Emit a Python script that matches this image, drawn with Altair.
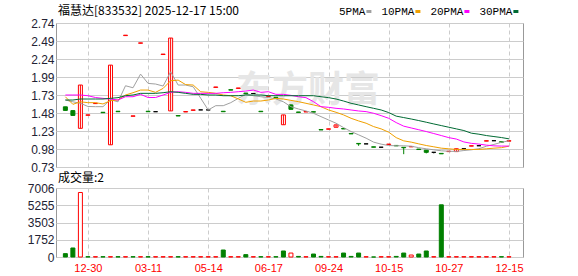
import json
import altair as alt
import pandas as pd

# ---------------- data ----------------
idx = list(range(60))
opens = [1.570, 1.517, 1.270, 1.452, 1.615, 1.494, 1.040, 1.508, 2.564, 1.438,
         2.457, 1.508, 1.502, 2.300, 1.513, 1.448, 1.498, 1.521, 1.527, 1.527,
         1.841, 1.508, 1.809, 1.827, 1.762, 1.756, 1.508, 1.715, 1.703, 1.320,
         1.596, 1.498, 1.498, 1.502, 1.253, 1.257, 1.285, 1.267, 1.198, 1.059,
         1.053, 1.012, 1.006, 1.044, 1.031, 1.005, 1.011, 0.980, 0.965, 0.935,
         0.920, 0.945, 0.945, 0.985, 1.021, 1.027, 1.091, 1.097, 1.082, 1.091]
closes = [1.520, 1.450, 1.874, 1.458, 1.620, 1.488, 2.152, 1.502, 2.570, 1.444,
          2.463, 1.502, 1.502, 2.306, 2.530, 1.442, 1.504, 1.527, 1.527, 1.527,
          1.847, 1.502, 1.803, 1.833, 1.756, 1.756, 1.502, 1.720, 1.697, 1.457,
          1.535, 1.492, 1.504, 1.496, 1.247, 1.263, 1.318, 1.261, 1.192, 1.053,
          1.053, 1.006, 1.006, 1.050, 1.025, 0.999, 1.017, 0.974, 0.935, 0.935,
          0.914, 0.950, 0.985, 0.985, 1.027, 1.027, 1.097, 1.097, 1.076, 1.097]
highs = [1.570, 1.517, 1.874, 1.458, 1.620, 1.494, 2.152, 1.508, 2.570, 1.444,
         2.463, 1.508, 1.502, 2.306, 2.530, 1.448, 1.504, 1.527, 1.527, 1.527,
         1.847, 1.508, 1.809, 1.833, 1.762, 1.756, 1.508, 1.720, 1.703, 1.457,
         1.605, 1.498, 1.504, 1.502, 1.253, 1.263, 1.318, 1.267, 1.198, 1.059,
         1.053, 1.012, 1.006, 1.050, 1.031, 1.005, 1.017, 0.980, 0.965, 0.935,
         0.920, 0.950, 0.985, 0.985, 1.027, 1.027, 1.097, 1.097, 1.082, 1.097]
lows = [1.520, 1.450, 1.270, 1.452, 1.615, 1.488, 1.040, 1.502, 2.564, 1.438,
        2.457, 1.502, 1.502, 2.300, 1.513, 1.442, 1.498, 1.521, 1.527, 1.527,
        1.841, 1.502, 1.803, 1.827, 1.756, 1.756, 1.502, 1.715, 1.697, 1.320,
        1.535, 1.492, 1.498, 1.496, 1.247, 1.257, 1.285, 1.261, 1.192, 1.026,
        1.053, 1.006, 1.006, 1.044, 1.025, 0.909, 1.011, 0.974, 0.920, 0.920,
        0.914, 0.945, 0.945, 0.985, 1.021, 1.027, 1.091, 1.097, 1.076, 1.091]
volumes = [340, 914, 6550, 30, 30, 30, 30, 30, 30, 30,
           30, 30, 30, 30, 30, 30, 30, 30, 30, 30,
           30, 710, 30, 30, 240, 30, 30, 30, 30, 610,
           400, 60, 30, 300, 60, 30, 30, 400, 60, 400,
           30, 0, 30, 30, 60, 400, 200, 300, 610, 30,
           5300, 30, 30, 30, 30, 30, 30, 30, 30, 30]
vol_dir = ["down", "down", "up", "down", "up", "down", "up", "down", "up", "down",
           "up", "down", "up", "up", "up", "down", "up", "up", "up", "up",
           "up", "down", "up", "up", "down", "up", "down", "up", "down", "down",
           "up", "down", "up", "down", "down", "up", "up", "down", "down", "down",
           "up", "down", "up", "up", "down", "down", "up", "down", "down", "up",
           "down", "up", "up", "up", "up", "up", "up", "up", "down", "up"]
ma5 = [1.665, 1.640, 1.620, 1.575, 1.572, 1.572, 1.670, 1.640, 1.864, 1.836,
       2.027, 1.897, 1.888, 1.860, 2.059, 1.874, 1.874, 1.850, 1.690, 1.526,
       1.586, 1.586, 1.628, 1.688, 1.744, 1.725, 1.711, 1.700, 1.680, 1.640,
       1.572, 1.540, 1.512, 1.480, 1.433, 1.387, 1.341, 1.280, 1.225, 1.179,
       1.132, 1.077, 1.049, 1.030, 1.026, 1.026, 1.020, 1.000, 0.984, 0.970,
       0.956, 0.950, 0.947, 0.960, 0.970, 0.985, 1.020, 1.045, 1.075, 1.095]
ma10 = [1.710, 1.605, 1.640, 1.628, 1.628, 1.610, 1.656, 1.665, 1.735, 1.767,
        1.804, 1.804, 1.772, 1.827, 1.934, 1.943, 1.880, 1.874, 1.780, 1.772,
        1.758, 1.735, 1.725, 1.680, 1.633, 1.651, 1.651, 1.665, 1.688, 1.679,
        1.660, 1.642, 1.619, 1.596, 1.572, 1.526, 1.494, 1.457, 1.410, 1.373,
        1.341, 1.294, 1.262, 1.216, 1.140, 1.095, 1.077, 1.053, 1.030, 1.012,
        0.993, 0.984, 0.975, 0.975, 0.975, 0.975, 0.984, 0.993, 1.000, 1.021]
ma20 = [1.735, 1.735, 1.735, 1.725, 1.700, 1.688, 1.679, 1.665, 1.711, 1.711,
        1.744, 1.700, 1.700, 1.735, 1.772, 1.781, 1.772, 1.758, 1.758, 1.758,
        1.758, 1.767, 1.772, 1.781, 1.790, 1.804, 1.772, 1.781, 1.744, 1.744,
        1.730, 1.711, 1.698, 1.642, 1.572, 1.563, 1.549, 1.540, 1.526, 1.512,
        1.503, 1.480, 1.447, 1.410, 1.350, 1.300, 1.275, 1.250, 1.225, 1.197,
        1.169, 1.140, 1.120, 1.080, 1.060, 1.050, 1.035, 1.025, 1.022, 1.022]
ma30 = [1.665, 1.665, 1.679, 1.679, 1.679, 1.679, 1.688, 1.698, 1.725, 1.735,
        1.758, 1.758, 1.758, 1.767, 1.781, 1.772, 1.758, 1.744, 1.744, 1.735,
        1.735, 1.725, 1.725, 1.725, 1.735, 1.735, 1.735, 1.725, 1.725, 1.725,
        1.725, 1.725, 1.725, 1.725, 1.711, 1.698, 1.679, 1.651, 1.619, 1.596,
        1.572, 1.549, 1.526, 1.490, 1.440, 1.420, 1.400, 1.378, 1.355, 1.331,
        1.308, 1.285, 1.262, 1.239, 1.202, 1.188, 1.169, 1.155, 1.141, 1.123]
tick_idx = [3, 11, 19, 27, 35, 43, 51, 59]
tick_labels = ["12-30", "03-11", "05-14", "06-17", "09-24", "10-15", "10-27", "12-15"]
price_labels = ["0.73", "0.98", "1.23", "1.48", "1.73", "1.99", "2.24", "2.49", "2.74"]
vol_labels = ["0", "1752", "3503", "5255", "7006"]
ma_names = ["5PMA", "10PMA", "20PMA", "30PMA"]
ma_colors = ["#a0a0a0", "#f0a000", "#ff00ff", "#006a33"]
title_text = "福慧达[833532] 2025-12-17 15:00"
vol_title = "成交量:2"
watermark = "东方财富"

# ---------------- tables ----------------
kind = ["up" if c > o else ("down" if c < o else "flat") for o, c in zip(opens, closes)]
cdf = pd.DataFrame({"i": idx, "o": opens, "c": closes, "h": highs, "l": lows, "kind": kind})
vdf = pd.DataFrame({"i": idx, "v": volumes, "dir": vol_dir})
mdf = pd.DataFrame({"i": idx, "5PMA": ma5, "10PMA": ma10, "20PMA": ma20, "30PMA": ma30})


def one(text):
    return pd.DataFrame({"t": [text]})


W, H1, H2 = 467, 144, 69
pmin, pmax = 0.73, 2.74
pstep = (pmax - pmin) / 8
price_vals = [pmin + k * pstep for k in range(9)]
vmax = 7006
vstep = vmax / 4
vol_vals = [k * vstep for k in range(5)]

AX_FONT = "Liberation Sans"
xs = alt.Scale(domain=[-0.58, 60.2], nice=False, zero=False)
grid_common = dict(gridColor="#cccccc", gridWidth=1)

x_price = alt.X("i:Q", scale=xs, axis=alt.Axis(values=tick_idx, labels=False, ticks=False, domain=False,
                                                grid=True, gridDash=[4, 3], title=None, **grid_common))
y_scale = alt.Scale(domain=[pmin, pmax], nice=False, zero=False)
y_axis = alt.Axis(values=price_vals, labelExpr=f"{json.dumps(price_labels)}[round((datum.value-{pmin})/{pstep})]",
                  grid=True, ticks=False, domain=False, labelPadding=2, labelFont=AX_FONT, labelFontSize=12,
                  labelColor="#222233", title=None, **grid_common)

kinds = ["up", "down", "flat"]
fill_s = alt.Scale(domain=kinds, range=["#ffffff", "#008000", "#000000"])
stroke_s = alt.Scale(domain=kinds, range=["#ff0000", "#008000", "#000000"])

wm = alt.Chart(one(watermark)).mark_text(font="Noto Sans CJK SC", fontSize=36, fontWeight="bold",
                                         color="#e6e6e6", align="center", baseline="middle").encode(
    text="t:N", x=alt.value(252), y=alt.value(68))

wicks = alt.Chart(cdf).mark_rule(strokeWidth=1).encode(
    x=x_price, y=alt.Y("l:Q", scale=y_scale, axis=y_axis), y2="h:Q",
    stroke=alt.Stroke("kind:N", scale=stroke_s, legend=None))
bodies = alt.Chart(cdf).mark_bar(size=4, strokeWidth=1).encode(
    x=x_price, y=alt.Y("o:Q", scale=y_scale, axis=y_axis), y2="c:Q",
    fill=alt.Fill("kind:N", scale=fill_s, legend=None),
    stroke=alt.Stroke("kind:N", scale=stroke_s, legend=None))
lines = alt.Chart(mdf).transform_fold(ma_names, as_=["ma", "val"]).mark_line(strokeWidth=1).encode(
    x=x_price, y=alt.Y("val:Q", scale=y_scale, axis=y_axis),
    color=alt.Color("ma:N", scale=alt.Scale(domain=ma_names, range=ma_colors), legend=None),
    detail="ma:N")

title = alt.Chart(one(title_text)).mark_text(font="Noto Sans CJK SC", fontSize=12, align="left",
                                             baseline="alphabetic", color="#000000").encode(
    text="t:N", x=alt.value(2), y=alt.value(-8))

legend_layers = []
lx = 283
for name, col in zip(ma_names, ma_colors):
    legend_layers.append(alt.Chart(one(name)).mark_text(font="Liberation Mono", fontSize=11, align="left",
                                                        baseline="alphabetic", color="#000000").encode(
        text="t:N", x=alt.value(lx), y=alt.value(-8)))
    tw = 6.6 * len(name)
    legend_layers.append(alt.Chart(one(name)).mark_rect(color=col).encode(
        x=alt.value(lx + tw + 1), x2=alt.value(lx + tw + 6), y=alt.value(-13), y2=alt.value(-10)))
    lx += tw + 16

price = alt.layer(wm, bodies, wicks, lines, title, *legend_layers).properties(width=W, height=H1)

x_vol = alt.X("i:Q", scale=xs, axis=alt.Axis(values=tick_idx,
                                              labelExpr=f"{json.dumps(tick_labels)}[indexof({json.dumps(tick_idx)}, datum.value)]",
                                              ticks=False, domain=False, grid=True, gridDash=[4, 3],
                                              labelColor="#ff0000", labelFont=AX_FONT, labelFontSize=11,
                                              labelPadding=5, title=None, **grid_common))
vy_axis = alt.Axis(values=vol_vals, labelExpr=f"{json.dumps(vol_labels)}[round(datum.value/{vstep})]",
                   grid=True, ticks=False, domain=False, labelPadding=2, labelFont=AX_FONT, labelFontSize=12,
                   labelColor="#222233", title=None, **grid_common)
dirs = ["up", "down"]
vbars = alt.Chart(vdf).mark_bar(size=4, strokeWidth=1).encode(
    x=x_vol, y=alt.Y("v:Q", scale=alt.Scale(domain=[0, vmax], nice=False), axis=vy_axis),
    fill=alt.Fill("dir:N", scale=alt.Scale(domain=dirs, range=["#ffffff", "#008000"]), legend=None),
    stroke=alt.Stroke("dir:N", scale=alt.Scale(domain=dirs, range=["#ff0000", "#008000"]), legend=None))
vtitle = alt.Chart(one(vol_title)).mark_text(font="Noto Sans CJK SC", fontSize=12, align="left",
                                             baseline="alphabetic", color="#000000").encode(
    text="t:N", x=alt.value(2), y=alt.value(-6))
vol = alt.layer(vbars, vtitle).properties(width=W, height=H2)

chart = alt.vconcat(price, vol, spacing=21, bounds="flush").configure(
    padding={"left": 26, "top": 4, "right": 0, "bottom": 0}, background="#ffffff"
).configure_view(stroke="#999999", strokeWidth=1)

chart.save("out.html", embed_options={"renderer": "svg", "actions": False})
